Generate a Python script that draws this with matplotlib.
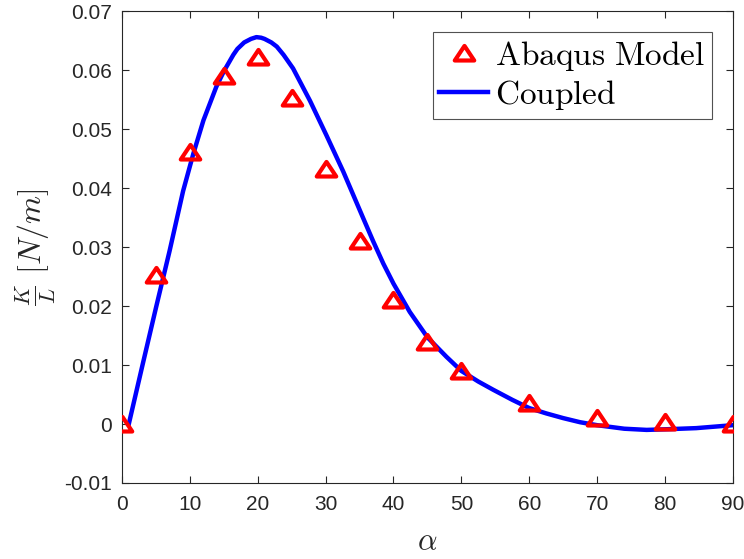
import matplotlib
matplotlib.use("Agg")
import matplotlib.pyplot as plt
from matplotlib.path import Path

plt.rcParams['mathtext.fontset'] = 'cm'
plt.rcParams['font.family'] = ['Liberation Sans', 'DejaVu Sans']

# Abaqus model (markers)
abaqus_alpha = [0, 5, 10, 15, 20, 25, 30, 35, 40, 45, 50, 60, 70, 80, 90]
abaqus_k = [0.0, 0.0253, 0.0461, 0.0590, 0.0622, 0.0553, 0.0432, 0.0310,
            0.0210, 0.0139, 0.0090, 0.0036, 0.0010, 0.0003, 0.0]

# Coupled model (line)
coupled_alpha = [1, 3, 5, 7, 9, 10.5, 12, 13.9, 15, 16.4, 17, 18, 19, 19.8,
                 20.5, 21, 22, 22.8, 23.8, 25.2, 27.7, 30.1, 32.6, 35.5, 37,
                 38.5, 40, 42.4, 45, 47.8, 50, 52.5, 54.7, 57.5, 60, 62.5, 65,
                 67.5, 70, 74, 77.3, 80, 84.6, 90]
coupled_k = [0.0, 0.0099, 0.0197, 0.0293, 0.0395, 0.0458, 0.0515, 0.0572,
             0.0598, 0.0626, 0.0636, 0.0647, 0.0653, 0.0656, 0.0655, 0.0653,
             0.0647, 0.0640, 0.0626, 0.0603, 0.0548, 0.0490, 0.0428, 0.0350,
             0.0310, 0.0272, 0.0238, 0.0190, 0.0147, 0.0114, 0.0090, 0.0072,
             0.0058, 0.0041, 0.0027, 0.0018, 0.0010, 0.0003, -0.0002, -0.0008,
             -0.0010, -0.0009, -0.0007, -0.0002]

xticks = [0, 10, 20, 30, 40, 50, 60, 70, 80, 90]
yticks = [-0.01, 0, 0.01, 0.02, 0.03, 0.04, 0.05, 0.06, 0.07]
ytick_labels = ['-0.01', '0', '0.01', '0.02', '0.03', '0.04', '0.05', '0.06', '0.07']

fig = plt.figure(figsize=(7.44, 5.59), dpi=100)
ax = fig.add_axes([0.164, 0.136, 0.821, 0.844])

axc = (0.15, 0.15, 0.15)
tri = Path([(-1, -0.72), (1, -0.72), (0, 0.78), (-1, -0.72)], closed=True)
ax.plot(abaqus_alpha, abaqus_k, linestyle='none', marker=tri, markersize=14,
        markerfacecolor='none', markeredgecolor='red', markeredgewidth=3,
        label=r'$\mathrm{Abaqus\ Model}$', zorder=3)
ax.plot(coupled_alpha, coupled_k, color='blue', linewidth=3.2,
        label=r'$\mathrm{Coupled}$', zorder=2, solid_joinstyle='round')

ax.set_xlim(0, 90)
ax.set_ylim(-0.01, 0.07)
ax.set_xticks(xticks)
ax.set_xticklabels([str(t) for t in xticks])
ax.set_yticks(yticks)
ax.set_yticklabels(ytick_labels)
ax.tick_params(direction='in', length=5, width=0.8, colors=axc, labelsize=15,
               top=True, right=True)
ax.tick_params(axis='x', pad=9)
ax.tick_params(axis='y', pad=7)
for s in ax.spines.values():
    s.set_color(axc)
    s.set_linewidth(0.8)

ax.set_xlabel(r'$\alpha$', fontsize=22, color=axc, labelpad=9)
ax.set_ylabel(r'$\frac{K}{L}\ [N/m]$', fontsize=23, color=axc, labelpad=5)

leg = ax.legend(loc='upper right', fontsize=24, frameon=True, fancybox=False,
                edgecolor=axc, borderpad=0.2, labelspacing=0.15,
                handlelength=1.47, handletextpad=0.2, borderaxespad=0.63)
leg.get_frame().set_linewidth(0.8)

fig.savefig('out.png', dpi=100)
